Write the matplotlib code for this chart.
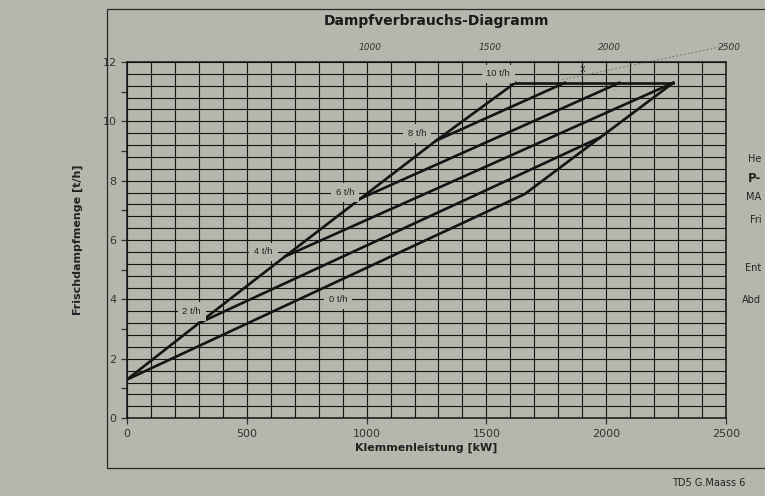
import numpy as np
import matplotlib.pyplot as plt
from matplotlib.patches import Rectangle

# Werte
huellkurve_x = [0, 300, 660, 975, 1290, 1620]
huellkurve_y = [1.3, 3.2, 5.45, 7.4, 9.35, 11.3]

linie_0_x = [0, 1660, 2280]
linie_0_y = [1.3, 7.55, 11.3]
linie_2_x = [300, 1975]
linie_2_y = [3.2, 9.46]
linie_4_x = [660, 2280]
linie_4_y = [5.45, 11.3]
linie_6_x = [975, 2055]
linie_6_y = [7.4, 11.3]
linie_8_x = [1290, 1827]
linie_8_y = [9.35, 11.3]
linie_10_x = [1620, 2280]
linie_10_y = [11.3, 11.3]

etiketten = ['0 t/h', '2 t/h', '4 t/h', '6 t/h', '8 t/h', '10 t/h']
etikett_x = [880, 270, 570, 910, 1210, 1550]
etikett_y = [4.0, 3.6, 5.6, 7.6, 9.6, 11.6]

oben_werte = [1000, 1500, 2000, 2500]

papier = '#b6b6ad'
tinte = '#141414'

fig = plt.figure(figsize=(7.65, 4.96), dpi=100, facecolor=papier)
ax = fig.add_axes([0.166, 0.157, 0.783, 0.718], facecolor=papier)

# Raster
for x in np.arange(0, 2501, 100):
    ax.axvline(x, color=tinte, lw=0.8, zorder=1)
for y in np.arange(0, 12.01, 0.4):
    ax.axhline(y, color=tinte, lw=0.8, zorder=1)

# Kennlinien
ax.plot(huellkurve_x, huellkurve_y, color=tinte, lw=1.9, zorder=3)
for xs, ys in [(linie_0_x, linie_0_y), (linie_2_x, linie_2_y),
               (linie_4_x, linie_4_y), (linie_6_x, linie_6_y),
               (linie_8_x, linie_8_y), (linie_10_x, linie_10_y)]:
    ax.plot(xs, ys, color=tinte, lw=1.9, zorder=3)

for t, x, y in zip(etiketten, etikett_x, etikett_y):
    ax.text(x, y, t, fontsize=6.8, color='#222222', ha='center', va='center',
            zorder=4, family='Liberation Sans',
            bbox=dict(facecolor=papier, edgecolor='none', pad=3.5))

# Bleistiftnotizen oben
for w in oben_werte:
    ax.text(w + 15, 12.35, str(w), fontsize=6.5, style='italic',
            color='#333333', ha='center', va='bottom')
ax.plot([1815, 2530], [11.4, 12.6], color='#7a7a74', lw=0.7, ls=(0, (2, 2)),
        clip_on=False, zorder=2)
ax.text(1900, 11.75, 'x', fontsize=7, color='#333333', ha='center', va='center')

ax.set_xlim(0, 2500)
ax.set_ylim(0, 12)
ax.set_xticks([0, 500, 1000, 1500, 2000, 2500])
ax.set_yticks(range(0, 13))
ax.set_yticklabels([str(v) if v % 2 == 0 else '' for v in range(0, 13)])
ax.tick_params(labelsize=8, colors='#333333', length=4, width=0.9)
for s in ax.spines.values():
    s.set_color(tinte)
    s.set_linewidth(1.1)

ax.set_xlabel('Klemmenleistung [kW]', fontsize=8, fontweight='bold',
              color='#222222', labelpad=3)
ax.set_ylabel('Frischdampfmenge [t/h]', fontsize=8, fontweight='bold',
              color='#222222', labelpad=14)

fig.text(0.571, 0.958, 'Dampfverbrauchs-Diagramm', fontsize=10,
         fontweight='bold', color='#1a1a1a', ha='center', va='center')

# Blattrahmen und Schriftkopf rechts (im Original angeschnitten)
fig.add_artist(Rectangle((0.14, 0.056), 0.9, 0.925, fill=False,
                         edgecolor='#2a2a2a', lw=0.9,
                         transform=fig.transFigure))
fig.text(0.878, 0.026, 'TD5 G.Maass 6', fontsize=7, color='#222222',
         ha='left', va='center')
for txt, yy, fw in [('He', 0.68, 'normal'), ('P-', 0.64, 'bold'),
                    ('MA', 0.603, 'normal'), ('Fri', 0.556, 'normal'),
                    ('Ent', 0.46, 'normal'), ('Abd', 0.395, 'normal')]:
    fig.text(0.995, yy, txt, fontsize=7 if fw == 'normal' else 8.5,
             fontweight=fw, color='#222222', ha='right', va='center')

fig.savefig('out.png', dpi=100, facecolor=papier)
